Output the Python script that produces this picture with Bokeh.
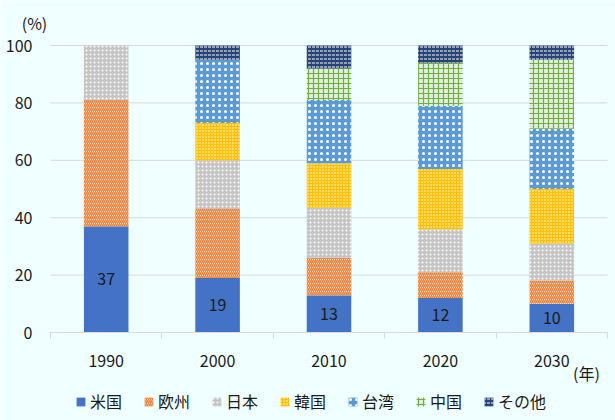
import numpy as np
from bokeh.plotting import figure
from bokeh.models import (FixedTicker, Legend, LegendItem, Label, ColumnDataSource, Range1d)
from bokeh.core.properties import value
from bokeh.embed import file_html
from bokeh.resources import INLINE

# ---- data ----
years = ["1990", "2000", "2010", "2020", "2030"]
series_names = ["米国", "欧州", "日本", "韓国", "台湾", "中国", "その他"]
us = [37, 19, 13, 12, 10]
eu = [44, 24, 13, 9, 8]
jp = [19, 17, 17.5, 15, 13]
kr = [0, 13, 15.5, 21, 19]
tw = [0, 22, 22, 22, 21]
cn = [0, 0, 11, 15, 24]
other = [0, 5, 8, 6, 5]
y_ticks = [0, 20, 40, 60, 80, 100]

series = [us, eu, jp, kr, tw, cn, other]

FONT = "Noto Sans CJK JP"
BG = "#F0FFFF"
GRID = "#D9D9D9"
TXT = "#1A1A1A"

styles = [
    dict(fill_color="#4472C4"),
    dict(fill_color="#FFFFFF", hatch_pattern="left_diagonal_line", hatch_color="#ED7D31", hatch_scale=4, hatch_weight=1.5),
    dict(fill_color="#C4C4C4", hatch_pattern="dot", hatch_color="#FFFFFF", hatch_scale=4, hatch_weight=1),
    dict(fill_color="#FFC000", hatch_pattern="dot", hatch_color="#FFFFFF", hatch_scale=3, hatch_weight=1),
    dict(fill_color="#5B9BD5", hatch_pattern="dot", hatch_color="#FFFFFF", hatch_scale=6, hatch_weight=1),
    dict(fill_color="#E2EFDA", hatch_pattern="cross", hatch_color="#70AD47", hatch_scale=5, hatch_weight=1.2),
    dict(fill_color="#264478", hatch_pattern="horizontal_dash", hatch_color="#FFFFFF", hatch_scale=4, hatch_weight=1),
]

n = len(years)
xc = np.arange(n) + 0.5
boundaries = list(np.arange(n + 1).astype(float))

# layout geometry (pixels) -> ranges so the frame fills the canvas
W, H = 615, 420
PX_L, PX_R = 50, 607      # plot area left/right
PX_T, PX_B = 45, 332      # y=100 / y=0
sx = (PX_R - PX_L) / n
sy = (PX_B - PX_T) / 100.0
x_range = Range1d(-PX_L / sx, n + (W - PX_R) / sx)
y_range = Range1d(-(H - PX_B) / sy, 100 + PX_T / sy)

p = figure(width=W, height=H, output_backend="svg", toolbar_location=None,
           x_range=x_range, y_range=y_range, min_border=0,
           background_fill_color=BG, border_fill_color=BG, outline_line_color=None)

p.xgrid.visible = False
p.ygrid.visible = False

# horizontal grid lines across the plot area only
p.segment(x0=[0] * len(y_ticks), x1=[n] * len(y_ticks), y0=y_ticks, y1=y_ticks,
          line_color=GRID, line_width=1)

bottoms = np.zeros(n)
renderers = []
for name, vals, st in zip(series_names, series, styles):
    v = np.array(vals, dtype=float)
    src = ColumnDataSource(dict(x=xc, bottom=bottoms.copy(), top=bottoms + v))
    r = p.vbar(x="x", bottom="bottom", top="top", width=0.4, source=src,
               line_color=None, **st)
    renderers.append(r)
    bottoms = bottoms + v

# labels on 米国 segment
us_arr = np.array(us, dtype=float)
p.text(x=xc, y=us_arr / 2, text=[str(v) for v in us],
       text_font=value(FONT), text_font_size="16px", text_color=TXT,
       text_align="center", text_baseline="middle")

# axes (fixed inside the frame)
ya = p.yaxis[0]
ya.fixed_location = 0
ya.ticker = FixedTicker(ticks=y_ticks)
ya.axis_line_color = None
ya.major_tick_line_color = None
ya.minor_tick_line_color = None
ya.major_tick_in = 0
ya.major_tick_out = 0
ya.major_label_standoff = 18
ya.major_label_text_font = FONT
ya.major_label_text_font_size = "16px"
ya.major_label_text_color = TXT

xa = p.xaxis[0]
xa.fixed_location = 0
xa.bounds = (0, n)
xa.ticker = FixedTicker(ticks=list(xc), minor_ticks=boundaries)
xa.major_label_overrides = {float(x): y for x, y in zip(xc, years)}
xa.axis_line_color = GRID
xa.major_tick_line_color = None
xa.major_tick_in = 0
xa.major_tick_out = 0
xa.minor_tick_line_color = GRID
xa.minor_tick_in = 0
xa.minor_tick_out = 6
xa.major_label_standoff = 16
xa.major_label_text_font = FONT
xa.major_label_text_font_size = "16px"
xa.major_label_text_color = TXT

# unit labels
p.add_layout(Label(x=0, y=100, x_offset=-16, y_offset=23, text="(%)",
                   text_font=FONT, text_font_size="16px", text_color=TXT,
                   text_align="center", text_baseline="middle"))
p.add_layout(Label(x=n, y=0, x_offset=-21, y_offset=-40, text="(年)",
                   text_font=FONT, text_font_size="16px", text_color=TXT,
                   text_align="center", text_baseline="middle"))

legend = Legend(items=[LegendItem(label=nm, renderers=[r]) for nm, r in zip(series_names, renderers)],
                orientation="horizontal", location=(75, 7),
                glyph_width=11, glyph_height=11, label_standoff=4, spacing=21,
                padding=0, margin=0, border_line_color=None, background_fill_alpha=0,
                label_text_font=FONT, label_text_font_size="16px", label_text_color=TXT,
                label_height=11)
p.add_layout(legend, "center")

open("out.html", "w").write(file_html(p, INLINE))
